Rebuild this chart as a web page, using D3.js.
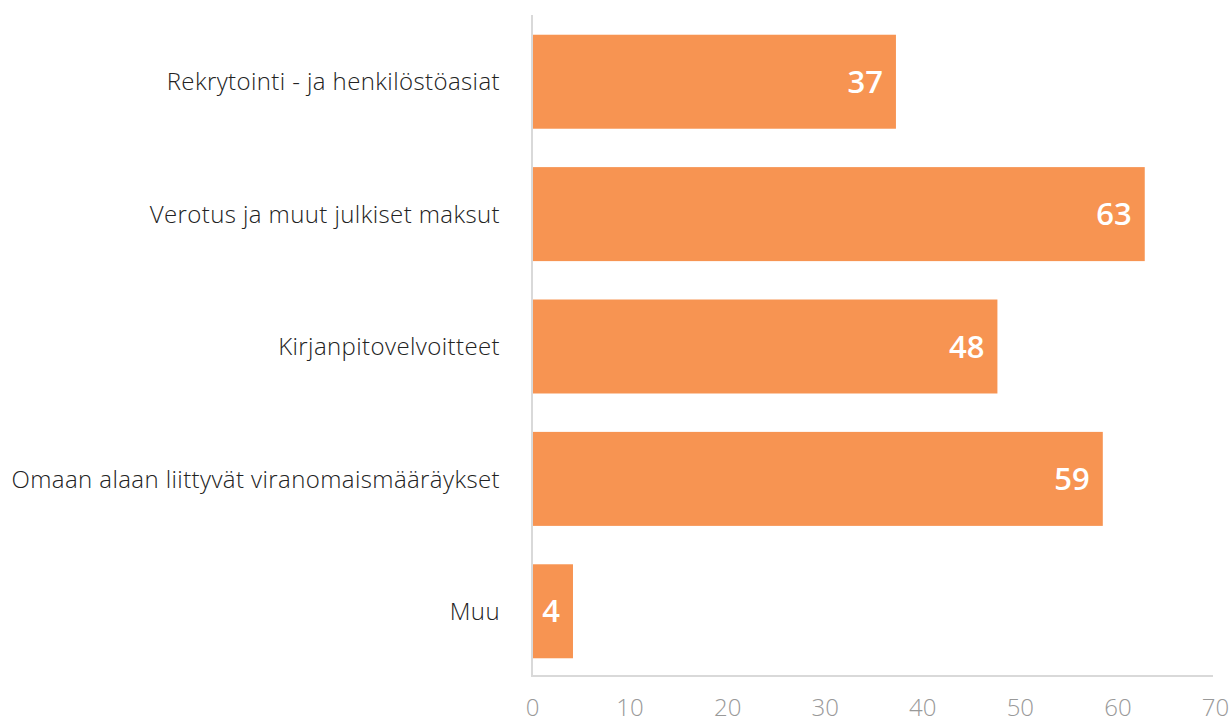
<!DOCTYPE html>
<html>
<head>
<meta charset="utf-8">
<script src="https://cdn.jsdelivr.net/npm/d3@7"></script>
<style>
  body { margin: 0; background: #fff; }
  svg { display: block; }
</style>
</head>
<body>
<div id="chart"></div>
<script>
const categories = [
  "Rekrytointi - ja henkilöstöasiat",
  "Verotus ja muut julkiset maksut",
  "Kirjanpitovelvoitteet",
  "Omaan alaan liittyvät viranomaismääräykset",
  "Muu"
];
const values = [37.3, 62.8, 47.7, 58.5, 4.2];
const xTicks = [0, 10, 20, 30, 40, 50, 60, 70];

const width = 1232, height = 725;
const svg = d3.select("#chart").append("svg").attr("width", width).attr("height", height);

const x = d3.scaleLinear().domain([0, 70]).range([532, 1215]);
const y = d3.scaleBand().domain(categories).range([15, 678]).paddingInner(0.29).paddingOuter(0.149);

// bars
svg.selectAll("rect.bar")
  .data(categories)
  .join("rect")
  .attr("class", "bar")
  .attr("x", x(0) + 1)
  .attr("y", d => y(d))
  .attr("width", (d, i) => x(values[i]) - x(0) - 1)
  .attr("height", y.bandwidth())
  .attr("fill", "#f79452");

// value labels
svg.selectAll("text.val")
  .data(categories)
  .join("text")
  .attr("class", "val")
  .attr("x", (d, i) => x(values[i]) - 13)
  .attr("y", d => y(d) + y.bandwidth() / 2)
  .attr("dy", "0.36em")
  .attr("text-anchor", "end")
  .attr("fill", "#fff")
  .style("font-family", "'Open Sans', sans-serif")
  .style("font-weight", 600)
  .style("font-size", "31px")
  .text((d, i) => Math.round(values[i]));

// category labels
svg.selectAll("text.cat")
  .data(categories)
  .join("text")
  .attr("class", "cat")
  .attr("x", 500)
  .attr("y", d => y(d) + y.bandwidth() / 2)
  .attr("dy", "0.36em")
  .attr("text-anchor", "end")
  .attr("fill", "#222")
  .style("font-family", "'Open Sans', sans-serif")
  .style("font-weight", 300)
  .style("font-size", "24px")
  .style("letter-spacing", "0.4px")
  .text(d => d);

// axes lines
svg.append("line")
  .attr("x1", 532).attr("x2", 532).attr("y1", 15).attr("y2", 676)
  .attr("stroke", "#d9d9d9").attr("stroke-width", 2);
svg.append("line")
  .attr("x1", 531).attr("x2", 1213).attr("y1", 676).attr("y2", 676)
  .attr("stroke", "#d9d9d9").attr("stroke-width", 2);

// x tick labels
const xAxis = svg.append("g")
  .attr("transform", "translate(0,676)")
  .call(d3.axisBottom(x).tickValues(xTicks).tickSize(0).tickPadding(23));
xAxis.select(".domain").remove();
xAxis.selectAll("text")
  .attr("fill", "#999")
  .style("font-family", "'Open Sans', sans-serif")
  .style("font-weight", 300)
  .style("font-size", "24px");
</script>
</body>
</html>
